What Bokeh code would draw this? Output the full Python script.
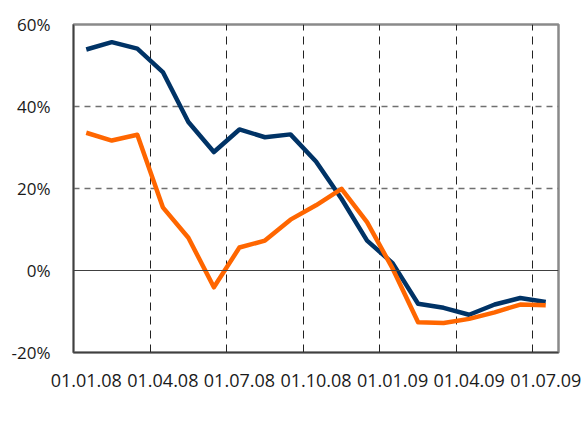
from bokeh.plotting import figure
from bokeh.layouts import column
from bokeh.models import FixedTicker, Span, Legend, LegendItem, Range1d
from bokeh.embed import file_html
from bokeh.resources import INLINE

# monthly observations, 01.01.08 .. 01.07.09 (category index)
months = ["01.01.08", "01.02.08", "01.03.08", "01.04.08", "01.05.08", "01.06.08",
          "01.07.08", "01.08.08", "01.09.08", "01.10.08", "01.11.08", "01.12.08",
          "01.01.09", "01.02.09", "01.03.09", "01.04.09", "01.05.09", "01.06.09",
          "01.07.09"]
m2 = [53.9, 55.7, 54.1, 48.4, 36.2, 28.9, 34.4, 32.5, 33.2, 26.6, 17.5, 7.3,
      1.8, -8.1, -9.1, -10.8, -8.3, -6.7, -7.7]
base = [33.6, 31.7, 33.1, 15.4, 8.0, -4.1, 5.6, 7.3, 12.4, 15.9, 19.9, 11.8,
        0.5, -12.6, -12.8, -11.8, -10.2, -8.3, -8.5]
tick_labels = ["01.01.08", "01.04.08", "01.07.08", "01.10.08", "01.01.09",
               "01.04.09", "01.07.09"]
y_ticks = [-20, 0, 20, 40, 60]
name_m2 = "Денежная масса М2"
name_base = "Широкая денежная база"

FONT = "Open Sans"
TXT = "#1a1a1a"
C_M2 = "#003366"
C_BASE = "#ff6600"

x = list(range(len(months)))
tick_pos = [months.index(t) for t in tick_labels]

p = figure(width=584, height=400, output_backend="svg", toolbar_location=None,
           x_range=Range1d(-0.5, len(months) - 0.5), y_range=Range1d(-20, 60),
           min_border_left=73, min_border_right=26, min_border_top=24,
           min_border_bottom=48)
p.background_fill_color = "white"
p.border_fill_color = "white"
p.outline_line_color = "#8a8a8a"
p.outline_line_width = 2.5

# grids
p.xgrid.ticker = FixedTicker(ticks=[i + 2.5 for i in range(0, len(months) - 3, 3)])
p.xgrid.grid_line_color = "#222222"
p.xgrid.grid_line_dash = "8 6"
p.xgrid.grid_line_width = 1
p.ygrid.ticker = FixedTicker(ticks=[20, 40])
p.ygrid.grid_line_color = "#707070"
p.ygrid.grid_line_dash = "6 5"
p.ygrid.grid_line_width = 1.3
p.add_layout(Span(location=0, dimension="width", line_color="#404040", line_width=1.2))

# axes
p.xaxis.ticker = FixedTicker(ticks=tick_pos)
p.xaxis.major_label_overrides = {pos: lab for pos, lab in zip(tick_pos, tick_labels)}
p.yaxis.ticker = FixedTicker(ticks=y_ticks)
p.yaxis.major_label_overrides = {v: f"{v}%" for v in y_ticks}
for ax in (p.xaxis[0], p.yaxis[0]):
    ax.major_tick_line_color = None
    ax.minor_tick_line_color = None
    ax.axis_line_color = "#404040"
    ax.axis_line_width = 1.5
    ax.major_label_text_font = FONT
    ax.major_label_text_color = TXT
p.xaxis.major_label_text_font_size = "18px"
p.yaxis.major_label_text_font_size = "17px"
p.xaxis.major_label_standoff = 15
p.yaxis.major_label_standoff = 17

p.line(x, m2, line_color=C_M2, line_width=4.5, line_join="round")
p.line(x, base, line_color=C_BASE, line_width=4.5, line_join="round")

# legend strip below the chart (its data lie outside its view)
lg = figure(width=584, height=44, output_backend="svg", toolbar_location=None,
            x_axis_type=None, y_axis_type=None, min_border=0,
            x_range=Range1d(-0.5, len(months) - 0.5), y_range=Range1d(100, 101))
lg.outline_line_color = None
lg.background_fill_color = "white"
lg.border_fill_color = "white"
lg.grid.visible = False
lr1 = lg.line(x, m2, line_color=C_M2, line_width=5)
lr2 = lg.line(x, base, line_color=C_BASE, line_width=5)
legend = Legend(items=[LegendItem(label=name_m2, renderers=[lr1]),
                       LegendItem(label=name_base, renderers=[lr2])],
                orientation="horizontal", location=(-65, 22),
                glyph_width=52, glyph_height=20, label_standoff=3, spacing=28,
                padding=0, margin=0, border_line_alpha=0, background_fill_alpha=0,
                label_text_font=FONT, label_text_font_size="19px",
                label_text_color=TXT)
lg.add_layout(legend, "below")

open("out.html", "w").write(file_html(column(p, lg), INLINE))
